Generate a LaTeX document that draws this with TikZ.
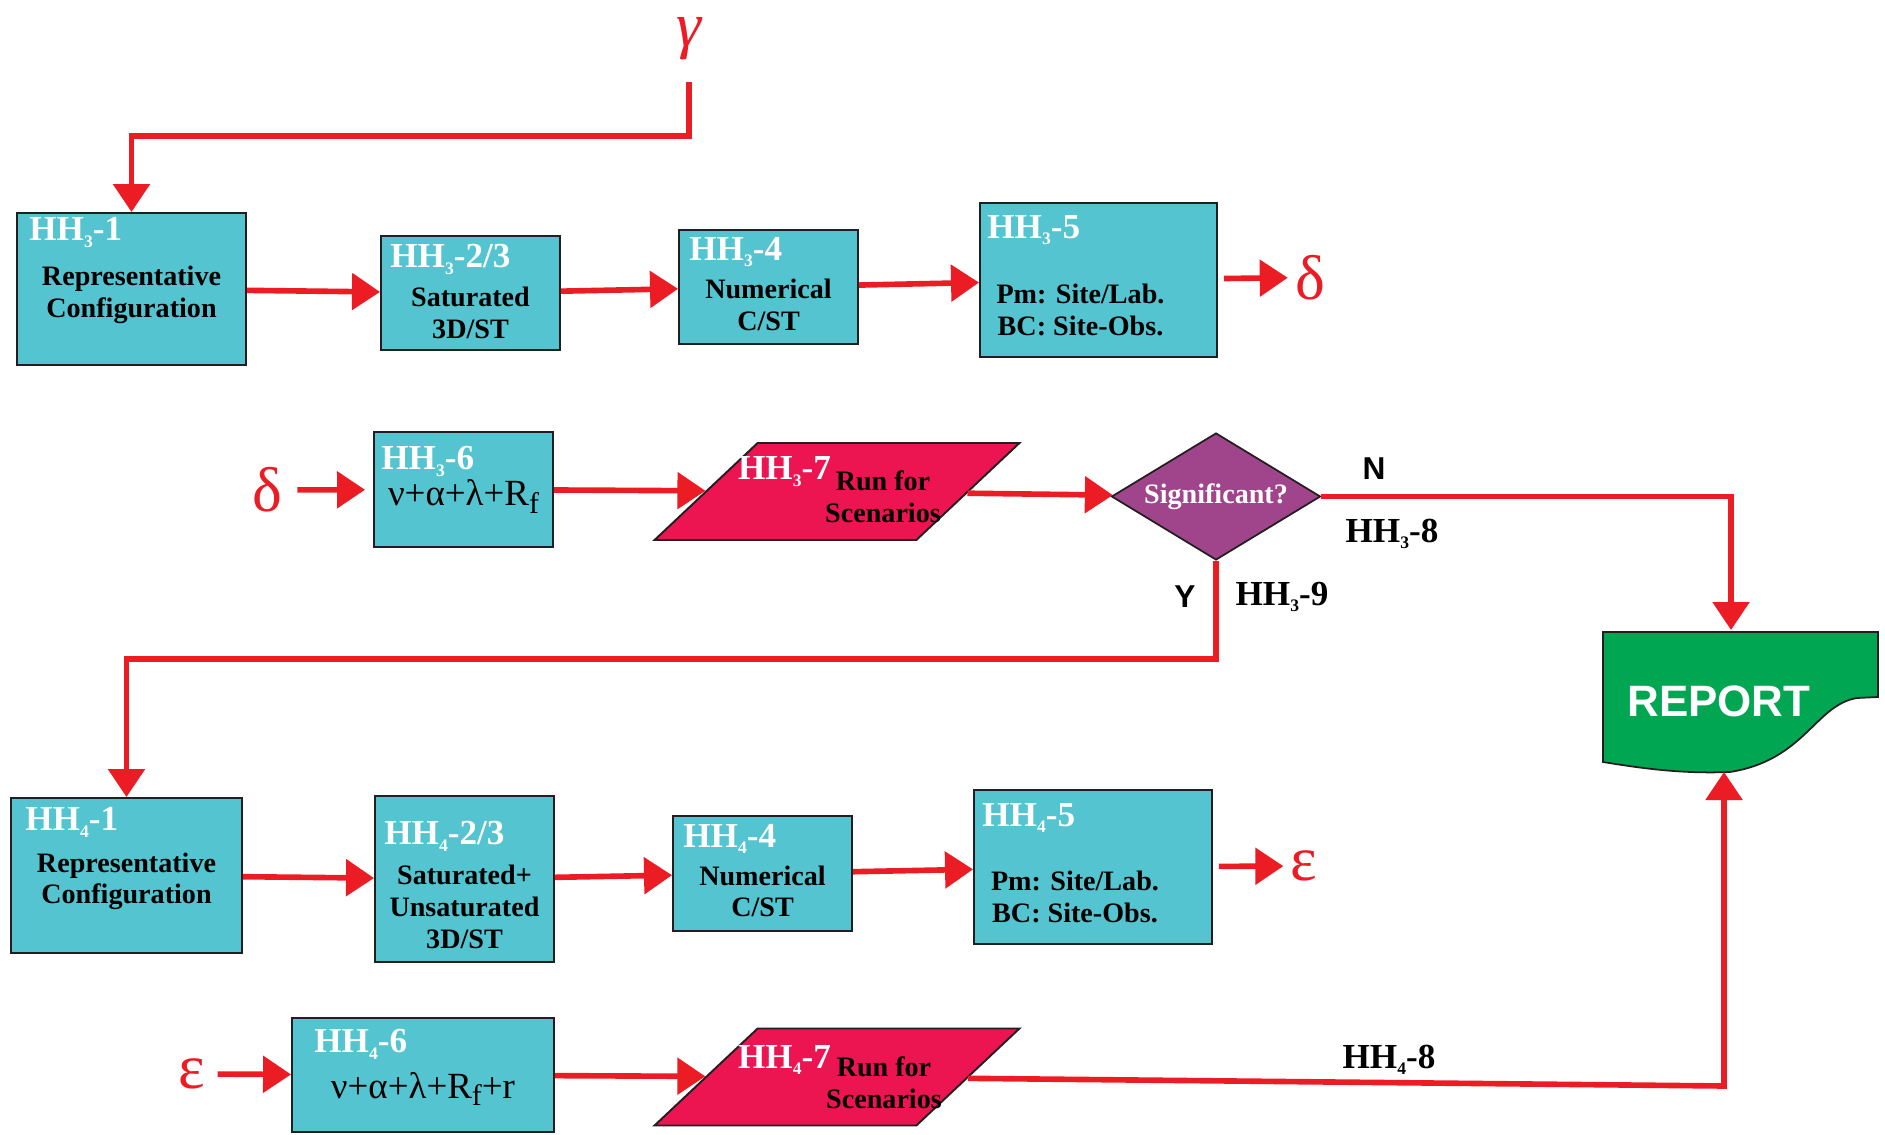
\documentclass[tikz,border=0pt]{standalone}
\usepackage{fontspec}
\setmainfont{Liberation Serif}
\newfontfamily\reportfont{Liberation Sans}
\usetikzlibrary{arrows.meta,shapes.geometric}

\definecolor{boxteal}{RGB}{83,196,208}
\definecolor{flowred}{RGB}{236,28,36}
\definecolor{runred}{RGB}{237,20,82}
\definecolor{sigpurple}{RGB}{160,68,140}
\definecolor{repgreen}{RGB}{0,166,81}
\definecolor{edgegray}{RGB}{35,31,32}

\newcommand{\hh}[2]{HH\raisebox{-0.4ex}{\fontsize{10}{10}\selectfont #1}-#2}
\newcommand{\rf}{R\raisebox{-0.45ex}{\fontsize{17}{17}\selectfont f}}

\begin{document}
\begin{tikzpicture}[
    hhbox/.style={draw=edgegray,line width=1.1pt,fill=boxteal,inner sep=0pt},
    hhrun/.style={trapezium,trapezium left angle=57,trapezium right angle=123,trapezium stretches=true,
        draw=edgegray,line width=1.1pt,fill=runred,minimum width=7.3cm,minimum height=1.94cm,inner sep=2pt},
    sig/.style={diamond,draw=edgegray,line width=1pt,fill=sigpurple,minimum width=4.18cm,minimum height=2.54cm,inner sep=0pt},
    hhtag/.style={anchor=north west,inner sep=0pt,text=white,font=\bfseries\fontsize{20}{22}\selectfont},
    bodytxt/.style={align=center,inner sep=0pt,font=\bfseries\fontsize{16}{18}\selectfont},
    formula/.style={inner sep=0pt,font=\fontsize{21}{24}\selectfont},
    greek/.style={text=flowred,inner sep=4pt,font=\fontsize{36}{36}\selectfont},
    steplabel/.style={inner sep=0pt,font=\bfseries\fontsize{20}{22}\selectfont},
    yn/.style={inner sep=0pt,font=\reportfont\bfseries\fontsize{18}{18}\selectfont},
    flow/.style={draw=flowred,line width=3.2pt,-{Triangle[length=0.56cm,width=0.72cm]}}
]
    \useasboundingbox (0,0) rectangle (37.7,-22.7);
    %% HH3 chain
    \node[greek,inner sep=0pt,font=\itshape\fontsize{36}{36}\selectfont] (g) at (13.78,-0.78) {γ};
    \coordinate (gc) at (13.78,-2.72);
    \node[hhbox,minimum width=4.58cm,minimum height=3.04cm] (a1) at (2.63,-5.78) {};
    \node[hhbox,minimum width=3.58cm,minimum height=2.28cm] (a2) at (9.41,-5.86) {};
    \node[hhbox,minimum width=3.58cm,minimum height=2.28cm] (a3) at (15.37,-5.74) {};
    \node[hhbox,minimum width=4.74cm,minimum height=3.08cm] (a4) at (21.97,-5.60) {};
    \node[greek] (d1) at (26.2,-5.55) {δ};
    %% texts
    \node[hhtag] (a1t) at ([shift={(0.26,-0.1)}]a1.north west) {\hh{3}{1}};
    \node[hhtag] (a2t) at ([shift={(0.2,-0.18)}]a2.north west) {\hh{3}{2/3}};
    \node[hhtag] (a3t) at ([shift={(0.22,-0.16)}]a3.north west) {\hh{3}{4}};
    \node[hhtag] (a4t) at ([shift={(0.16,-0.26)}]a4.north west) {\hh{3}{5}};
    \node[bodytxt] (a1b) at ([yshift=-0.12cm]a1.center) {Representative\\Configuration};
    \node[bodytxt] (a2b) at ([yshift=-0.4cm]a2.center) {Saturated\\3D/ST};
    \node[bodytxt] (a3b) at ([yshift=-0.36cm]a3.center) {Numerical\\C/ST};
    \node[bodytxt] (a4b) at ([shift={(-0.36,-0.6)}]a4.center) {Pm: Site/Lab.\\BC: Site-Obs.};
    %% arrows
    \draw[flow,shorten <=0.42cm] (g) -- (gc) -| (a1);
    \draw[flow] (a1) -- (a2);
    \draw[flow] (a2) -- (a3);
    \draw[flow] (a3) -- (a4);
    \draw[flow,shorten <=0.12cm] (a4) -- (d1);

    %% HH3 runs and decision
    \node[greek] (d2) at (5.34,-9.8) {δ};
    \node[hhbox,minimum width=3.58cm,minimum height=2.30cm] (a5) at (9.27,-9.79) {};
    \node[hhrun] (a6) at (16.74,-9.83) {};
    \node[sig] (a7) at (24.32,-9.93) {};
    \node[hhtag] (a5t) at ([shift={(0.16,-0.3)}]a5.north west) {\hh{3}{6}};
    \node[formula] (a5b) at ([yshift=-0.14cm]a5.center) {ν+α+λ+\rf};
    \node[hhtag,anchor=center] (a6t) at ([shift={(-1.05,0.4)}]a6.center) {\hh{3}{7}};
    \node[bodytxt] (a6b) at ([shift={(0.92,-0.1)}]a6.center) {Run for\\Scenarios};
    \node[text=white,inner sep=0pt,font=\bfseries\fontsize{16}{18}\selectfont] (a7t) at (a7) {Significant?};
    \node[yn] (n) at (27.48,-9.38) {N};
    \node[steplabel] (a8) at (27.84,-10.68) {\hh{3}{8}};
    \node[yn] (y) at (23.7,-11.94) {Y};
    \node[steplabel] (a9) at (25.64,-11.94) {\hh{3}{9}};
    \coordinate (rt) at (34.62,-12.6);
    \coordinate (yc) at (24.32,-13.18);
    \draw[flow,shorten <=0.16cm,shorten >=0.16cm] (d2) -- (a5);
    \draw[flow] (a5) -- (a6);
    \draw[flow] (a6) -- (a7);
    \draw[flow] (a7) -| (rt);

    %% report
    \draw[draw=edgegray,line width=1pt,fill=repgreen] (32.06,-12.64) -- (37.56,-12.64) -- (37.56,-13.94) -- (37.14,-13.96)
        .. controls (36.3,-14.1) and (36.1,-15.2) .. (34.6,-15.44)
        .. controls (33.6,-15.48) and (32.8,-15.36) .. (32.06,-15.24) -- cycle;
    \node[text=white,inner sep=0pt,font=\reportfont\bfseries\fontsize{25}{25}\selectfont] (rep) at (34.38,-14.02) {REPORT};
    \coordinate (rb) at (34.48,-15.44);

    %% HH4 chain
    \node[hhbox,minimum width=4.62cm,minimum height=3.10cm] (b1) at (2.53,-17.51) {};
    \node[hhbox,minimum width=3.58cm,minimum height=3.32cm] (b2) at (9.29,-17.58) {};
    \node[hhbox,minimum width=3.58cm,minimum height=2.30cm] (b3) at (15.25,-17.47) {};
    \node[hhbox,minimum width=4.76cm,minimum height=3.08cm] (b4) at (21.86,-17.34) {};
    \node[greek] (e1) at (26.08,-17.32) {ε};
    \node[hhtag] (b1t) at ([shift={(0.3,-0.2)}]b1.north west) {\hh{4}{1}};
    \node[hhtag] (b2t) at ([shift={(0.2,-0.52)}]b2.north west) {\hh{4}{2/3}};
    \node[hhtag] (b3t) at ([shift={(0.22,-0.18)}]b3.north west) {\hh{4}{4}};
    \node[hhtag] (b4t) at ([shift={(0.18,-0.28)}]b4.north west) {\hh{4}{5}};
    \node[bodytxt] (b1b) at ([yshift=-0.12cm]b1.center) {Representative\\Configuration};
    \node[bodytxt] (b2b) at ([yshift=-0.56cm]b2.center) {Saturated+\\Unsaturated\\3D/ST};
    \node[bodytxt] (b3b) at ([yshift=-0.36cm]b3.center) {Numerical\\C/ST};
    \node[bodytxt] (b4b) at ([shift={(-0.36,-0.6)}]b4.center) {Pm: Site/Lab.\\BC: Site-Obs.};
    \draw[flow] (a7) -- (yc) -| (b1);
    \draw[flow] (b1) -- (b2);
    \draw[flow] (b2) -- (b3);
    \draw[flow] (b3) -- (b4);
    \draw[flow,shorten <=0.12cm] (b4) -- (e1);

    %% HH4 runs
    \node[greek] (e2) at (3.84,-21.48) {ε};
    \node[hhbox,minimum width=5.24cm,minimum height=2.28cm] (b5) at (8.46,-21.5) {};
    \node[hhrun] (b6) at (16.74,-21.54) {};
    \node[hhtag] (b5t) at ([shift={(0.46,-0.24)}]b5.north west) {\hh{4}{6}};
    \node[formula] (b5b) at ([yshift=-0.28cm]b5.center) {ν+α+λ+\rf+r};
    \node[hhtag,anchor=center] (b6t) at ([shift={(-1.05,0.34)}]b6.center) {\hh{4}{7}};
    \node[bodytxt] (b6b) at ([shift={(0.94,-0.12)}]b6.center) {Run for\\Scenarios};
    \node[steplabel] (b8) at (27.78,-21.2) {\hh{4}{8}};
    \coordinate (c4) at (34.48,-21.72);
    \draw[flow,shorten <=0.1cm] (e2) -- (b5);
    \draw[flow] (b5) -- (b6);
    \draw[flow] (b6) -- (c4) -- (rb);
\end{tikzpicture}
\end{document}
